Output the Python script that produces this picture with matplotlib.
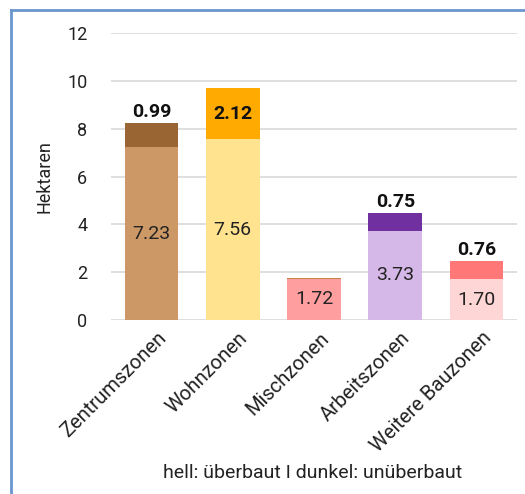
import matplotlib
matplotlib.use("Agg")
import matplotlib.pyplot as plt
from matplotlib.lines import Line2D
from matplotlib.transforms import ScaledTranslation

categories = ["Zentrumszonen", "Wohnzonen", "Mischzonen", "Arbeitszonen", "Weitere Bauzonen"]
ueberbaut = [7.23, 7.56, 1.72, 3.73, 1.70]
unueberbaut = [0.99, 2.12, 0.02, 0.75, 0.76]
light_colors = ["#CC9966", "#FFE38F", "#FF9E9E", "#D6B8E8", "#FFD6D6"]
dark_colors = ["#996633", "#FFAA00", "#C8844A", "#7030A0", "#FF7777"]
show_dark_label = [True, True, False, True, True]
dark_label_inside = [False, True, False, False, False]
yticks = [0, 2, 4, 6, 8, 10, 12]

plt.rcParams["font.family"] = ["Roboto", "DejaVu Sans"]

W, H = 525, 494
fig = plt.figure(figsize=(W / 100, H / 100), dpi=100)
ax = fig.add_axes([111 / W, (H - 320) / H, (517 - 111) / W, (320 - 33) / H])

x = list(range(len(categories)))
width = 0.66
ax.bar(x, ueberbaut, width=width, color=light_colors, zorder=3)
ax.bar(x, unueberbaut, width=width, bottom=ueberbaut, color=dark_colors, zorder=3)

for i in x:
    ax.text(i, ueberbaut[i] / 2, f"{ueberbaut[i]:.2f}", ha="center", va="center",
            fontsize=14, color="#222222", zorder=4)
    if show_dark_label[i]:
        top = ueberbaut[i] + unueberbaut[i]
        if dark_label_inside[i]:
            ax.text(i, ueberbaut[i] + unueberbaut[i] / 2, f"{unueberbaut[i]:.2f}",
                    ha="center", va="center", fontsize=14, fontweight="bold",
                    color="#111111", zorder=4)
        else:
            ax.text(i, top + 0.08, f"{unueberbaut[i]:.2f}", ha="center", va="bottom",
                    fontsize=14, fontweight="bold", color="#111111", zorder=4)

ax.set_xlim(-0.5, 4.5)
ax.set_ylim(0, 12)
ax.set_yticks(yticks)
ax.set_yticklabels([str(t) for t in yticks], fontsize=13, color="#222222")
ax.tick_params(axis="y", length=0, pad=17)
ax.tick_params(axis="x", length=0, pad=6)
ax.set_xticks(x)
ax.set_xticklabels(categories, rotation=45, ha="right", rotation_mode="anchor",
                   fontsize=14.5, color="#222222")
shift = ScaledTranslation(5 / 100, 0, fig.dpi_scale_trans)
for lbl in ax.get_xticklabels():
    lbl.set_transform(lbl.get_transform() + shift)
ax.grid(axis="y", color="#D9D9D9", linewidth=1.2, zorder=0)
for s in ax.spines.values():
    s.set_visible(False)
ax.set_ylabel("Hektaren", fontsize=13, color="#222222", labelpad=10)

fig.text(313 / W, 1 - 473 / H, "hell: überbaut I dunkel: unüberbaut",
         ha="center", va="center", fontsize=14, color="#222222")

# outer frame (top and left)
fig.add_artist(Line2D([11 / W, 1.0], [1 - 10 / H, 1 - 10 / H], color="#6A96CF", linewidth=2,
                      transform=fig.transFigure))
fig.add_artist(Line2D([11 / W, 11 / W], [0.0, 1 - 10 / H], color="#6A96CF", linewidth=2,
                      transform=fig.transFigure))

fig.savefig("out.png", dpi=100)
